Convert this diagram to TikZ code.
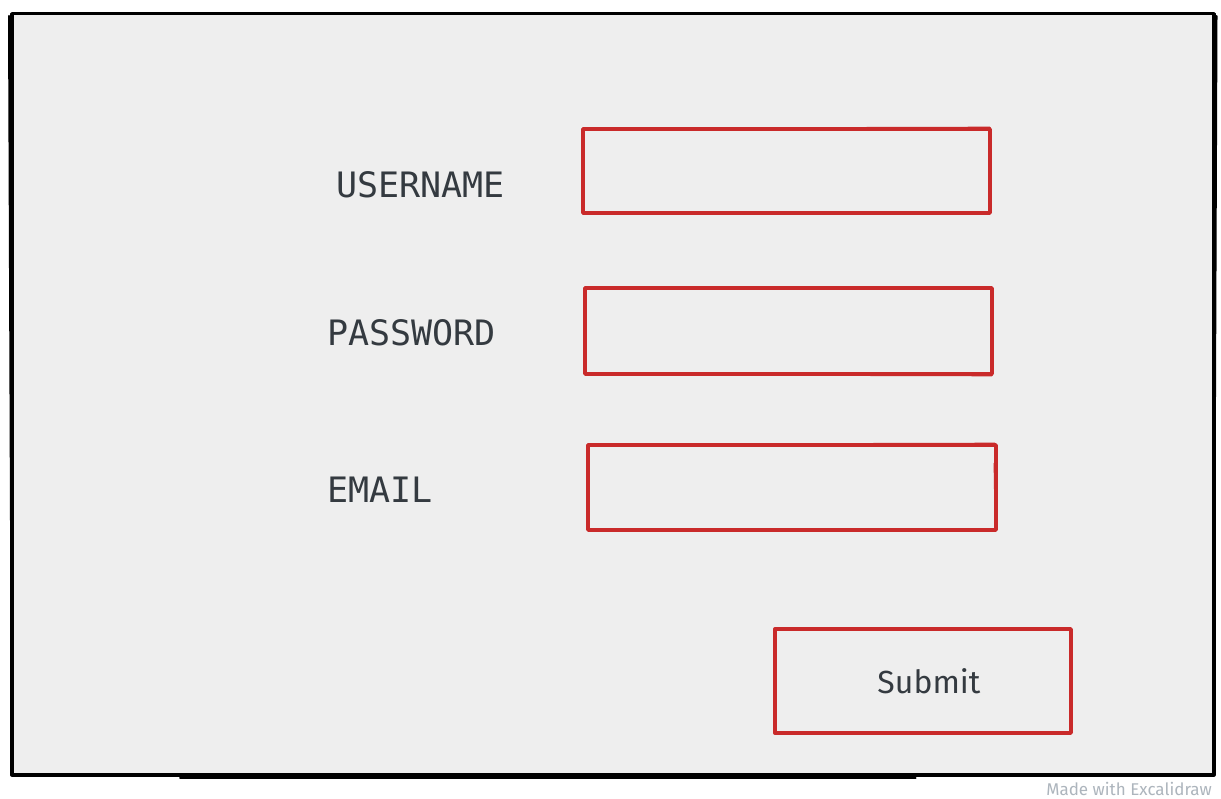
\documentclass[tikz,border=0pt]{standalone}
\usepackage{fontspec}
\newfontfamily\monof{DejaVu Sans Mono}
\newfontfamily\handf{Fira Sans}
\definecolor{exred}{HTML}{C92A2A}
\definecolor{extext}{HTML}{343A40}
\definecolor{exbg}{HTML}{EEEEEE}
\definecolor{exgrey}{HTML}{ADB5BD}
\tikzset{
  framebox/.style={draw=black, fill=exbg, line width=3.5pt, inner sep=0pt, anchor=north west, line join=round},
  field/.style={draw=exred, line width=3.4pt, inner sep=0pt, line join=round},
  redsketch/.style={draw=exred, line width=2.2pt, line cap=round},
  blacksketch/.style={draw=black, line width=2pt, line cap=round}
}
\begin{document}
\begin{tikzpicture}[x=1pt,y=-1pt]
\useasboundingbox (0,0) rectangle (1221,799);
\fill[white] (0,0) rectangle (1221,799);
% outer frame
\node[framebox, minimum width=1202pt, minimum height=761pt] (frame) at (10,12) {};
\draw[blacksketch] ([shift={(170,1.5)}]frame.south west) -- ([shift={(-300,1.5)}]frame.south east);
\draw[blacksketch] ([shift={(-1,4)}]frame.north west) -- ([shift={(2,-4)}]frame.south west);
\draw[blacksketch] ([shift={(1,4)}]frame.north east) -- ([shift={(-2,-6)}]frame.south east);
% fields
\node[field, minimum width=407pt, minimum height=84pt] (user) at (786.5,171) {};
\node[field, minimum width=407pt, minimum height=86pt] (pass) at (788.5,331) {};
\node[field, minimum width=408pt, minimum height=85pt] (mail) at (792,487.5) {};
\node[field, minimum width=296pt, minimum height=104pt] (sub) at (923,681) {};
% sketch strokes
\draw[redsketch] ([shift={(3,1.5)}]user.north west) -- ([shift={(-2,0.5)}]user.north east);
\draw[redsketch] ([shift={(1.5,-1)}]user.south west) -- ([shift={(2,3)}]user.north west);
\draw[redsketch] ([shift={(3,-1.5)}]pass.south west) -- ([shift={(-2,-0.5)}]pass.south east);
\draw[redsketch] ([shift={(1.5,-2)}]pass.south west) -- ([shift={(1.5,2)}]pass.north west);
\draw[redsketch] ([shift={(4,1.5)}]mail.north west) -- ([shift={(-3,0.5)}]mail.north east);
\draw[redsketch] ([shift={(-2,-2)}]mail.south east) -- ([shift={(-3,20)}]mail.north east);
\draw[redsketch] ([shift={(3,-1.5)}]sub.south west) -- ([shift={(-6,-1.5)}]sub.south east);
\draw[redsketch] ([shift={(1.5,-2)}]sub.south west) -- ([shift={(1.5,2)}]sub.north west);
\draw[redsketch] ([shift={(-1.5,2)}]sub.north east) -- ([shift={(-1.5,-2)}]sub.south east);
% labels
\node[text=extext, font=\monof\fontsize{35}{40}\selectfont, inner sep=0pt, anchor=west] (lu) at (336,185) {USERNAME};
\node[text=extext, font=\monof\fontsize{35}{40}\selectfont, inner sep=0pt, anchor=west] (lp) at (327,333) {PASSWORD};
\node[text=extext, font=\monof\fontsize{35}{40}\selectfont, inner sep=0pt, anchor=west] (le) at (327,490) {EMAIL};
\node[text=extext, font=\handf\fontsize{32}{36}\selectfont, inner sep=0pt] (ls) at (sub.center) [xshift=6pt] {Submit};
\node[text=exgrey, font=\handf\fontsize{17}{19}\selectfont, inner sep=0pt, anchor=east] (wm) at (1212,789) {Made with Excalidraw};
\end{tikzpicture}
\end{document}
